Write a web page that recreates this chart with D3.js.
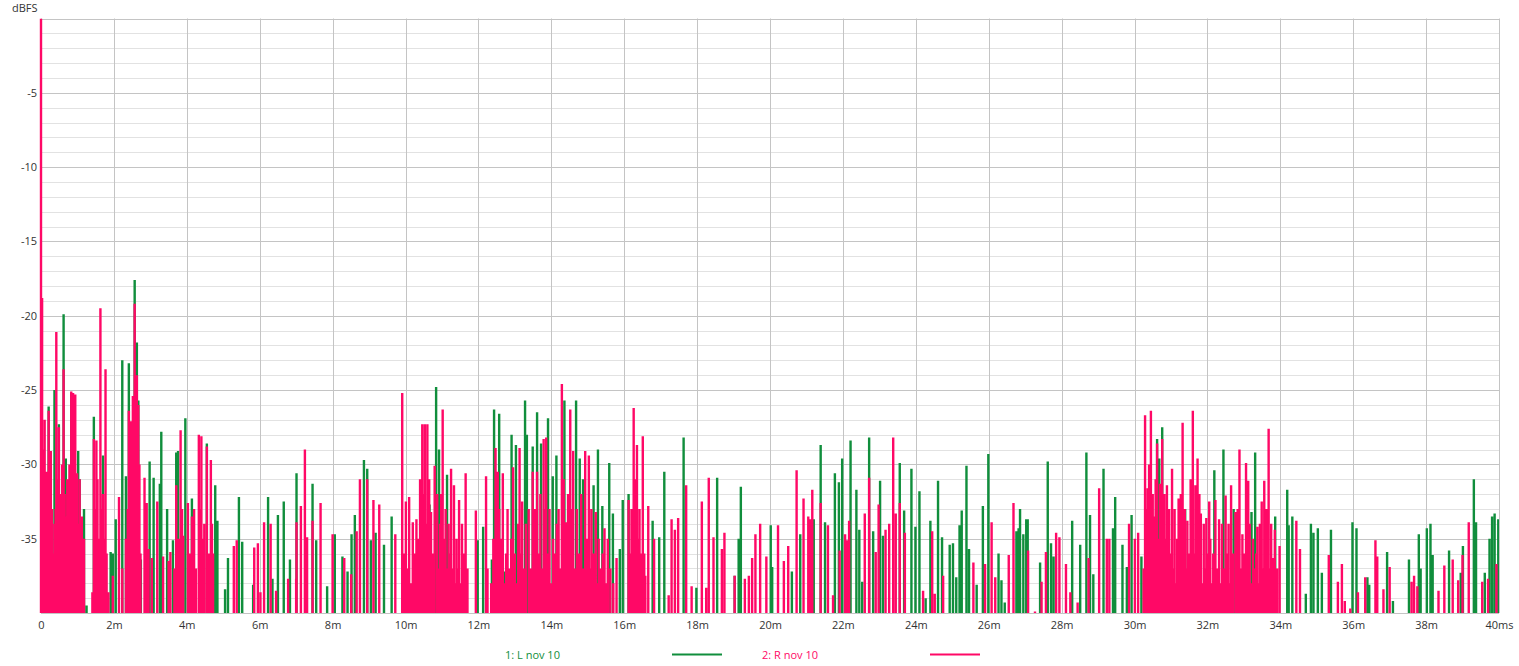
<!DOCTYPE html>
<html><head><meta charset="utf-8">
<script src="https://cdn.jsdelivr.net/npm/d3@7"></script>
<style>
body{margin:0;background:#fff;}
text{font-family:"Open Sans","Noto Sans",sans-serif;font-size:11px;}
</style>
</head><body>
<svg id="c" width="1519" height="666"></svg>
<script>
// ---- data ----
const xTicks = [0,2,4,6,8,10,12,14,16,18,20,22,24,26,28,30,32,34,36,38,40];
const xTickLabels = ["0","2m","4m","6m","8m","10m","12m","14m","16m","18m","20m","22m","24m","26m","28m","30m","32m","34m","36m","38m","40ms"];
const yTicks = [-5,-10,-15,-20,-25,-30,-35];
const yTickLabels = ["-5","-10","-15","-20","-25","-30","-35"];
const seriesNames = ["1: L nov 10","2: R nov 10"];

// [time ms, dBFS] peaks, left channel (green)
const leftPeaks = [
[0.21,-26.1],[0.37,-25.0],[0.49,-27.3],[0.62,-19.9],[0.68,-29.6],[0.75,-33.3],[0.83,-25.2],[1.02,-29.1],[1.06,-31.0],[1.18,-33.0],[1.25,-39.5],
[1.45,-26.8],[1.70,-29.4],[1.91,-35.9],[1.97,-36.0],[2.05,-33.7],[2.23,-23.0],[2.33,-30.8],[2.41,-23.2],[2.57,-17.6],[2.63,-21.8],[2.67,-25.7],
[2.74,-36.4],[2.98,-29.8],[3.09,-30.9],[3.26,-31.3],[3.30,-27.8],[3.46,-33.0],[3.62,-35.1],[3.71,-29.2],[3.76,-29.1],[3.96,-26.9],[4.14,-32.3],
[4.55,-28.6],[4.78,-31.4],[4.84,-33.8],[5.05,-38.4],[5.13,-36.3],[5.43,-32.2],[5.52,-35.2],[5.82,-38.1],[6.23,-32.2],[6.35,-37.7],[6.50,-33.4],
[6.66,-32.5],[6.83,-36.4],[7.01,-30.6],[7.45,-31.3],[7.55,-35.1],[7.85,-38.2],[8.06,-34.7],[8.27,-36.2],[8.41,-37.2],[8.52,-34.7],[8.61,-33.4],
[8.86,-29.7],[8.95,-30.3],[9.05,-35.1],[9.18,-34.6],[9.41,-35.4],[9.62,-33.5],[10.66,-32.7],[10.84,-24.8],[10.92,-29.0],[11.14,-30.7],[11.98,-35.1],
[12.13,-34.2],[12.37,-36.4],[12.43,-26.3],[12.57,-26.6],[12.73,-37.2],[12.91,-28.0],[13.03,-28.7],[13.28,-25.7],[13.33,-28.0],[13.49,-28.8],
[13.61,-26.5],[13.72,-28.6],[13.91,-26.9],[14.04,-30.8],[14.14,-29.4],[14.36,-25.7],[14.68,-25.7],[14.78,-29.6],[14.87,-31.0],[15.16,-31.4],
[15.28,-29.0],[15.40,-32.8],[15.59,-29.9],[15.69,-33.3],[15.88,-35.7],[15.96,-32.4],[16.12,-32.0],[16.78,-33.8],[16.96,-34.9],[17.10,-30.5],
[17.63,-28.2],[17.98,-38.3],[18.55,-30.9],[19.03,-37.5],[19.14,-35.0],[19.20,-31.5],[20.02,-34.1],[20.06,-36.9],[20.60,-37.2],[20.83,-34.7],
[21.20,-33.7],[21.39,-28.7],[21.51,-33.9],[21.78,-30.6],[21.89,-31.2],[21.98,-29.6],[22.21,-28.4],[22.37,-31.7],[22.45,-34.4],[22.53,-37.9],
[22.72,-28.2],[22.83,-34.5],[23.02,-31.1],[23.10,-34.8],[23.56,-29.9],[23.68,-33.1],[23.88,-30.3],[23.99,-34.2],[24.10,-31.8],[24.27,-39.0],
[24.40,-33.8],[24.61,-31.1],[24.72,-34.9],[24.93,-35.4],[25.02,-35.3],[25.11,-37.6],[25.20,-34.1],[25.26,-33.1],[25.39,-30.1],[25.46,-35.7],
[25.67,-38.1],[25.84,-32.8],[25.99,-29.3],[26.27,-36.0],[26.35,-37.8],[26.44,-39.3],[26.76,-34.5],[26.82,-34.3],[26.86,-33.0],[26.95,-34.7],
[27.03,-33.7],[27.07,-33.7],[27.41,-36.6],[27.62,-29.8],[27.71,-35.3],[27.78,-36.2],[28.29,-33.8],[28.51,-35.4],[28.68,-29.2],[28.78,-33.4],
[28.87,-37.4],[29.15,-30.3],[29.41,-34.3],[29.47,-32.2],[29.67,-35.4],[29.79,-36.9],[29.92,-33.4],[30.19,-36.2],[30.62,-28.3],[30.68,-29.6],
[30.76,-27.5],[31.39,-33.0],[32.19,-30.4],[32.44,-29.0],[32.72,-33.0],[33.21,-33.2],[33.31,-29.2],[33.86,-33.5],[34.19,-31.7],[34.23,-34.1],
[34.33,-33.5],[34.70,-38.7],[34.84,-34.0],[34.91,-34.6],[35.03,-34.3],[35.14,-37.3],[35.39,-34.4],[35.98,-33.9],[36.09,-34.3],[36.39,-37.6],
[36.44,-38.1],[36.93,-35.9],[37.09,-39.2],[37.53,-36.4],[37.80,-34.7],[37.85,-37.0],[38.02,-34.3],[38.12,-34.0],[38.18,-36.1],[38.63,-35.8],
[38.95,-37.3],[39.01,-35.5],[39.31,-31.0],[39.37,-33.9],[39.61,-37.3],[39.74,-35.0],[39.81,-33.5],[39.88,-33.3],[39.98,-33.7]
];

// [time ms, dBFS] peaks, right channel (pink)
const rightPeaks = [
[0.00,0],[0.03,-18.8],[0.06,-29],[0.10,-27.0],[0.13,-32],[0.16,-30.5],[0.19,-34],[0.21,-26.4],[0.24,-31],[0.27,-29.1],[0.30,-33],[0.32,-36],
[0.35,-38],[0.37,-34],[0.40,-33],[0.42,-21.1],[0.45,-31],[0.49,-27.5],[0.52,-32],[0.55,-36],[0.58,-30],[0.62,-23.6],[0.65,-32],[0.68,-33.5],
[0.72,-31],[0.75,-37],[0.78,-30],[0.80,-34],[0.83,-25.1],[0.86,-31],[0.88,-25.2],[0.91,-32],[0.94,-25.3],[0.97,-33],[0.99,-30.6],[1.03,-34],
[1.06,-31.0],[1.09,-36],[1.12,-33.5],[1.15,-37],[1.18,-35],[1.41,-38.6],[1.45,-28.3],[1.48,-33],[1.52,-28.4],[1.55,-31],[1.60,-35],
[1.63,-19.5],[1.66,-33],[1.70,-32],[1.73,-35],[1.77,-23.6],[1.80,-36],[1.85,-38.6],[1.97,-37.5],
[2.14,-32.2],[2.23,-37],[2.33,-35],[2.38,-33],[2.41,-26.4],[2.45,-30],[2.47,-27.1],[2.50,-31],[2.52,-25.4],[2.55,-30],[2.57,-19.2],
[2.60,-27],[2.63,-24.0],[2.65,-31],[2.67,-26.0],[2.70,-30],[2.73,-36],[2.84,-30.9],[2.90,-32.6],[2.95,-35.7],[3.04,-36.3],[3.19,-32.5],
[3.35,-36.2],[3.50,-36.5],[3.55,-35.9],[3.66,-37],[3.71,-31.4],[3.77,-35],[3.83,-27.7],[3.87,-33],[3.90,-34.8],[4.03,-32.6],[4.08,-36],
[4.14,-33.5],[4.20,-33.0],[4.25,-37],[4.33,-28.0],[4.37,-33],[4.40,-28.1],[4.44,-35],[4.48,-34],[4.55,-28.8],[4.60,-36],
[4.66,-29.7],[4.69,-34],[4.72,-36],[5.29,-35.5],
[5.37,-35.1],[5.85,-35.6],[5.95,-35.3],[6.02,-38.6],[6.12,-33.9],[6.30,-34.0],[6.45,-38.5],[6.78,-37.7],[7.00,-37.7],[7.01,-33.9],[7.13,-32.8],
[7.24,-29.0],[7.30,-34.9],[7.45,-33.8],[7.67,-32.6],[8.00,-34.7],[8.32,-36.3],[8.51,-37.4],[8.66,-34.5],[8.75,-31.0],[8.95,-31.0],[9.12,-32.4],
[9.28,-32.7],[9.72,-34.7],[9.91,-25.2],[9.95,-36],[10.01,-32.5],[10.05,-37],[10.10,-32.2],[10.15,-38],[10.20,-33.9],[10.25,-36],[10.30,-33.7],
[10.35,-35],[10.40,-31.0],[10.43,-33],[10.46,-27.3],[10.50,-32],[10.53,-27.3],[10.57,-34],[10.60,-27.3],[10.65,-31],[10.70,-33.2],[10.75,-36],
[10.80,-30.1],[10.87,-32],[10.90,-37],[10.95,-34],[10.98,-32],[11.02,-26.3],[11.05,-35],[11.10,-33],[11.13,-37],[11.18,-34],[11.22,-36],
[11.25,-30.3],[11.29,-37],[11.33,-31.4],[11.36,-38],[11.40,-35],[11.44,-37],[11.47,-32.4],[11.50,-38],[11.55,-34],[11.60,-36],[11.65,-30.6],
[11.70,-37],[11.93,-33.1],[12.21,-30.8],[12.25,-37],[12.35,-38],[12.41,-35],[12.47,-28.9],[12.50,-36],
[12.53,-30.5],[12.57,-33],[12.60,-37],[12.63,-35],[12.67,-30.6],[12.72,-38],[12.76,-36],[12.80,-33],[12.85,-37],[12.90,-35],[12.95,-30.2],
[13.00,-36],[13.05,-38],[13.09,-34],[13.13,-28.9],[13.17,-36],[13.20,-32.5],[13.25,-37],[13.30,-34],[13.38,-33],[13.43,-37],[13.49,-30.5],
[13.55,-33],[13.61,-30.5],[13.65,-36],[13.70,-32],[13.75,-37],[13.79,-28.3],[13.82,-33],[13.86,-28.2],[13.90,-36],[13.95,-33],[14.00,-38],
[14.05,-35],[14.10,-36],[14.15,-34],[14.20,-33],[14.25,-37],[14.29,-24.6],[14.34,-31],[14.40,-33.9],[14.46,-32],
[14.52,-26.3],[14.56,-33],[14.60,-29.1],[14.64,-37],[14.70,-33],[14.76,-36],[14.82,-32],[14.88,-37],[14.93,-29.1],[14.98,-35],[15.03,-29.4],
[15.07,-37],[15.10,-33],[15.16,-36],[15.22,-33.2],[15.26,-38],[15.30,-35],[15.35,-37],[15.41,-36],[15.46,-34.3],[15.50,-38],[15.55,-35],
[15.62,-37],[15.70,-38],[15.79,-36.3],[16.12,-32.4],[16.16,-36],[16.20,-33],[16.24,-35],[16.26,-26.2],[16.30,-31],[16.35,-28.7],[16.38,-35],
[16.42,-33],[16.46,-36],[16.51,-28.1],[16.55,-36],[16.58,-37.5],[16.66,-32.8],[16.82,-35.0],
[17.22,-38.8],[17.30,-33.7],[17.39,-34.4],[17.48,-33.6],[17.70,-31.4],[17.85,-38.2],[18.13,-32.5],[18.25,-38.3],[18.32,-30.9],[18.45,-34.9],
[18.68,-35.7],[18.75,-34.6],[19.03,-37.5],[19.31,-37.7],[19.42,-37.5],[19.51,-36.3],[19.60,-34.7],[19.73,-34.0],[19.90,-36.2],[20.22,-34.1],
[20.38,-36.5],[20.50,-35.5],[20.73,-30.4],[20.92,-32.3],[21.05,-33.5],[21.10,-33.7],[21.16,-31.7],[21.39,-32.6],[21.59,-34.1],[21.73,-38.8],
[21.91,-35.8],[22.06,-34.7],[22.12,-35.1],[22.17,-33.8],[22.60,-33.3],[22.72,-30.9],[22.90,-35.9],[22.98,-32.7],[23.17,-34.4],[23.27,-34.0],
[23.38,-28.2],[23.45,-33.3],[23.56,-32.6],[23.70,-34.6],[24.20,-38.5],[24.45,-34.5],[24.52,-38.7],[24.75,-37.5],[25.58,-36.6],[25.90,-36.7],
[26.08,-33.9],[26.18,-37.6],[26.55,-36.1],[26.68,-32.6],[27.08,-35.8],[27.27,-39.9],[27.45,-37.9],[27.57,-35.9],[27.85,-34.6],[27.94,-34.9],
[28.12,-36.7],[28.24,-38.6],[28.44,-39.3],[28.74,-36.3],[29.03,-31.6],[29.24,-35.0],[29.31,-35.0],[29.85,-34.0],[30.01,-35.0],[30.10,-34.6],
[30.25,-37],[30.29,-26.7],[30.32,-33],[30.36,-31.6],[30.40,-30],[30.43,-36],[30.45,-26.4],[30.48,-33],[30.50,-32],[30.53,-33.5],[30.56,-37],
[30.58,-31],[30.62,-28.6],[30.66,-35],[30.70,-31.3],[30.73,-33],[30.76,-28.3],[30.79,-37],[30.82,-32],[30.86,-35],[30.89,-31.4],[30.92,-38],
[30.95,-33],[30.99,-36],[31.03,-30.3],[31.06,-37],[31.10,-33],[31.14,-38],[31.17,-35],[31.21,-32.3],[31.24,-37],[31.27,-32],[31.30,-36],
[31.32,-27.2],[31.35,-35],[31.38,-33],[31.42,-37],[31.45,-33.8],[31.50,-36],[31.54,-31.0],[31.57,-33],[31.60,-26.4],[31.63,-36],[31.67,-31.4],
[31.70,-35],[31.73,-29.6],[31.78,-32],[31.82,-33.3],[31.86,-38],[31.90,-34],[31.94,-37],[31.97,-33.6],[32.01,-36],[32.05,-32.5],[32.08,-35],
[32.12,-38],[32.16,-36],[32.22,-32.4],[32.26,-37],[32.32,-33.7],[32.36,-38],[32.40,-34],[32.45,-37],[32.50,-32.1],[32.54,-36],[32.58,-34],
[32.62,-38],[32.65,-31.4],[32.70,-36],[32.77,-33.2],[32.80,-37],[32.83,-33],[32.88,-29.0],[32.92,-37],[32.96,-34.7],[33.00,-36],[33.03,-38],
[33.06,-29.9],[33.09,-36],[33.12,-31.1],[33.16,-34],[33.20,-38],[33.25,-35],[33.30,-37],[33.34,-36],[33.37,-34.2],[33.40,-38],[33.44,-34],
[33.49,-32.5],[33.52,-37],[33.56,-31.1],[33.59,-35],[33.62,-33],[33.65,-36],[33.68,-27.6],[33.71,-37],[33.75,-34],[33.78,-38],[33.81,-36.3],
[33.85,-34.4],[33.91,-37],[33.98,-35.5],
[34.44,-33.8],[34.54,-35.7],[35.33,-36.1],[35.58,-37.9],[35.69,-36.7],[35.77,-39.2],[35.92,-39.7],[36.13,-38.6],[36.33,-37.6],[36.61,-35.1],
[36.66,-36.2],[36.83,-38.4],[37.00,-36.9],[37.60,-37.9],[37.67,-37.5],[37.76,-38.2],[38.34,-38.5],[38.50,-36.8],[38.73,-36.4],[38.88,-37.8],
[39.00,-36.1],[39.17,-33.9],[39.54,-37.9],[39.70,-37.7],[39.93,-36.7]
];

// ---- chart ----
const colors = ["#108e3c","#ff0866"];
const svg = d3.select("#c");
const x = d3.scaleLinear().domain([0,40]).range([41,1499]);
const y = d3.scaleLinear().domain([-40,0]).range([613,18.5]);
const px = v => Math.round(v) + 0.5;

const grid = svg.append("g");
grid.selectAll("line.minor").data(d3.range(-39,0,1).filter(v => v % 5 !== 0)).join("line")
  .attr("x1",x(0)).attr("x2",x(40)).attr("y1",d=>px(y(d))).attr("y2",d=>px(y(d)))
  .attr("stroke","#e2e2e2").attr("stroke-width",1);
grid.selectAll("line.major").data(d3.range(-40,1,5)).join("line")
  .attr("x1",x(0)).attr("x2",x(40)).attr("y1",d=>px(y(d))).attr("y2",d=>px(y(d)))
  .attr("stroke","#c4c4c4").attr("stroke-width",1);
grid.selectAll("line.v").data(xTicks).join("line")
  .attr("x1",d=>px(x(d))).attr("x2",d=>px(x(d))).attr("y1",y(0)).attr("y2",y(-40))
  .attr("stroke","#c4c4c4").attr("stroke-width",1);

svg.append("defs").append("clipPath").attr("id","plot")
  .append("rect").attr("x",x(0)-2).attr("y",y(0)).attr("width",x(40)-x(0)+2).attr("height",y(-40)-y(0));

const spikes = pts => pts.map(([t,v]) => `M${x(t)},${y(-40)}V${y(v)}`).join("");
const plot = svg.append("g").attr("clip-path","url(#plot)");
[leftPeaks, rightPeaks].forEach((pts,i) => {
  plot.append("path").attr("d",spikes(pts)).attr("fill","none")
    .attr("stroke",colors[i]).attr("stroke-width",2.4);
});

const xAxis = d3.axisBottom(x).tickValues(xTicks).tickFormat((d,i)=>xTickLabels[i]).tickSize(0).tickPadding(8);
const gx = svg.append("g").attr("transform",`translate(0,${y(-40)})`).call(xAxis);
gx.select(".domain").remove();
gx.selectAll("text").attr("fill","#333").style("font-size","11px");

const yAxis = d3.axisLeft(y).tickValues(yTicks).tickFormat((d,i)=>yTickLabels[i]).tickSize(0).tickPadding(4);
const gy = svg.append("g").attr("transform",`translate(${x(0)},0)`).call(yAxis);
gy.select(".domain").remove();
gy.selectAll("text").attr("fill","#333").style("font-size","11px");

svg.append("text").attr("x",12).attr("y",12).attr("fill","#333").text("dBFS");

const legX = [[505,672],[762,930]];
seriesNames.forEach((n,i) => {
  svg.append("text").attr("x",legX[i][0]).attr("y",659).attr("fill",colors[i]).text(n);
  svg.append("line").attr("x1",legX[i][1]).attr("x2",legX[i][1]+50).attr("y1",654.5).attr("y2",654.5)
    .attr("stroke",colors[i]).attr("stroke-width",2);
});
</script>
</body></html>
